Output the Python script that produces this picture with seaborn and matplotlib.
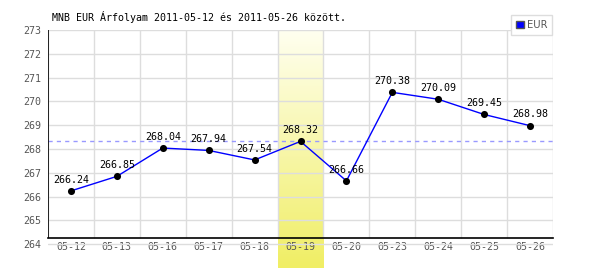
import numpy as np
import pandas as pd
import matplotlib
matplotlib.use("Agg")
import matplotlib.pyplot as plt
import seaborn as sns
from matplotlib.patches import Patch

dates = ["05-12", "05-13", "05-16", "05-17", "05-18", "05-19",
         "05-20", "05-23", "05-24", "05-25", "05-26"]
eur = [266.24, 266.85, 268.04, 267.94, 267.54, 268.32,
       266.66, 270.38, 270.09, 269.45, 268.98]
average = 268.35
highlight = "05-19"
yticks = list(range(264, 274))
title = "MNB EUR Árfolyam 2011-05-12 és 2011-05-26 között."

sns.set_theme(style="white")
plt.rcParams['font.family'] = ['DejaVu Sans Mono', 'DejaVu Sans']
FS = 7.2

df = pd.DataFrame({"pos": np.arange(len(dates)), "EUR": eur})

fig = plt.figure(figsize=(6, 2.7), dpi=100)
ax = fig.add_axes([48/600, 2/270, 505/600, 238/270])
ax.set_xlim(-0.5, len(dates) - 0.5)
ax.set_ylim(263, 273)
axis_base = 264.26

# highlight band gradient
hi = dates.index(highlight)
grad = np.linspace(0, 1, 256).reshape(-1, 1)
top = np.array([255, 255, 240]) / 255
bot = np.array([240, 238, 100]) / 255
img = top[None, None, :] * (1 - grad[..., None]) + bot[None, None, :] * grad[..., None]
ax.imshow(img, extent=(hi - 0.5, hi + 0.5, 263, 273), origin="upper",
          aspect="auto", zorder=0)

# grid
for y in yticks:
    ax.axhline(y, color="#dddddd", lw=1, zorder=1)
ax.vlines(np.arange(len(dates) + 1) - 0.5, axis_base, 273, color="#dddddd", lw=1, zorder=1)

# average line
ax.axhline(average, color="#9999ff", lw=1, ls=(0, (3, 3)), zorder=2)

sns.lineplot(data=df, x="pos", y="EUR", ax=ax, color="#0000ff", lw=1, zorder=3,
             legend=False)
sns.scatterplot(data=df, x="pos", y="EUR", ax=ax, color="black", s=26,
                linewidth=0, zorder=4, legend=False)

for i, v in enumerate(eur):
    ax.annotate(f"{v:.2f}", (i, v), xytext=(0, 4.5), textcoords="offset points",
                ha="center", va="bottom", fontsize=FS, color="black", zorder=5)

# axes
for s in ["top", "right", "left"]:
    ax.spines[s].set_visible(False)
ax.spines["bottom"].set_position(("data", axis_base))
ax.spines["bottom"].set_color("black")
ax.spines["bottom"].set_linewidth(1.2)
ax.vlines(-0.5, axis_base, 273, color="black", lw=1.2, zorder=6)

ax.set_xticks(np.arange(len(dates)))
ax.set_xticklabels(dates)
ax.set_yticks(yticks)
ax.set_yticklabels([str(t) for t in yticks])
ax.tick_params(axis="x", length=0, pad=3, labelsize=FS, colors="#555555")
ax.tick_params(axis="y", length=0, pad=5, labelsize=FS, colors="#555555")
ax.set_xlabel("")
ax.set_ylabel("")

fig.text(52/600, 1 - 17/270, title, fontsize=FS, color="black", va="center", ha="left")

leg = ax.legend(handles=[Patch(facecolor="#0000ff", edgecolor="#555555", label="EUR")],
                loc="upper right", bbox_to_anchor=(552/600, 1 - 15/270),
                bbox_transform=fig.transFigure, prop={"family": "DejaVu Sans", "size": FS},
                frameon=True, fancybox=False, handlelength=0.8, handleheight=0.8,
                handletextpad=0.3, borderpad=0.5, borderaxespad=0)
leg.get_frame().set_edgecolor("#dddddd")
leg.get_frame().set_linewidth(1)
leg.get_frame().set_alpha(1)
for t in leg.get_texts():
    t.set_color("#555555")
leg.set_zorder(10)

fig.savefig("out.png", dpi=100)
